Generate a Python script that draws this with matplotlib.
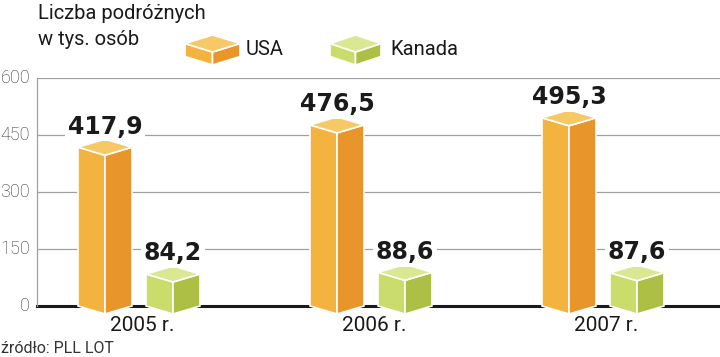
import matplotlib
matplotlib.use("Agg")
import matplotlib.pyplot as plt
from matplotlib.patches import Polygon
import numpy as np

plt.rcParams['font.family'] = ['Roboto', 'DejaVu Sans']

years = ["2005 r.", "2006 r.", "2007 r."]
usa = [417.9, 476.5, 495.3]
kanada = [84.2, 88.6, 87.6]
usa_labels = ["417,9", "476,5", "495,3"]
kanada_labels = ["84,2", "88,6", "87,6"]
yticks = [0, 150, 300, 450, 600]

W, H = 720, 357
fig = plt.figure(figsize=(W / 100, H / 100), dpi=100)

ax_left, ax_right = 37, 720
ax_top, ax_bot = 78, 306
ax = fig.add_axes([ax_left / W, (H - ax_bot) / H, (ax_right - ax_left) / W, (ax_bot - ax_top) / H])

px_per_unit = 232.0
center0 = 139.0
ax.set_xlim((ax_left - center0) / px_per_unit, (ax_right - center0) / px_per_unit)
ax.set_ylim(0, 600)

bw = 54 / px_per_unit
off = 34 / px_per_unit
d = 8 * 600 / (ax_bot - ax_top)  # depth in data units

col_usa = dict(left="#F4B33F", right="#E8952B", top="#F7C866")
col_kan = dict(left="#C9DC6C", right="#AEBF46", top="#DAE793")


def prism(xc, v, c):
    x0, x1 = xc - bw / 2, xc + bw / 2
    faces = [
        ([(x0, 0), (xc, -d), (xc, v - d), (x0, v)], c["left"]),
        ([(xc, -d), (x1, 0), (x1, v), (xc, v - d)], c["right"]),
        ([(x0, v), (xc, v - d), (x1, v), (xc, v + d)], c["top"]),
    ]
    for pts, fc in faces:
        ax.add_patch(Polygon(pts, closed=True, facecolor=fc, edgecolor="white",
                             linewidth=1.2, clip_on=False, zorder=3))


for y in yticks[1:]:
    ax.axhline(y, color="#a0a0a0", linewidth=0.9, zorder=1)
ax.axhline(0, color="#1a1a1a", linewidth=2.2, zorder=2, clip_on=False)

x = np.arange(len(years))
for i in x:
    for xc, v, lab, c in [(i - off, usa[i], usa_labels[i], col_usa),
                          (i + off, kanada[i], kanada_labels[i], col_kan)]:
        prism(xc, v, c)
        ax.annotate(lab, (xc, v + d), xytext=(0, 4), textcoords="offset points",
                    ha="center", va="baseline", fontsize=17, fontweight="bold",
                    family="DejaVu Sans", color="#1a1a1a", zorder=4,
                    bbox=dict(boxstyle="square,pad=0.12", fc="white", ec="none"))

ax.set_yticks(yticks)
ax.set_yticklabels([str(t) for t in yticks], fontsize=13, color="#333333",
                   fontweight="light")
ax.tick_params(axis="y", length=0, pad=5)
for t in ax.get_yticklabels():
    t.set_va("center")
ax.set_xticks([])
for s in ["top", "right", "bottom"]:
    ax.spines[s].set_visible(False)
ax.spines["left"].set_color("#a0a0a0")
ax.spines["left"].set_linewidth(0.9)

# year labels
for i, lab in enumerate(years):
    ax.annotate(lab, (i + 3 / px_per_unit, 0), xytext=(0, -7), textcoords="offset points",
                ha="center", va="top", fontsize=15, color="#1a1a1a", annotation_clip=False)

# overlay in pixel coords
ov = fig.add_axes([0, 0, 1, 1], zorder=10)
ov.set_xlim(0, W)
ov.set_ylim(H, 0)
ov.axis("off")

ov.text(38, 19, "Liczba podróżnych", fontsize=14.5, color="#1a1a1a", va="baseline", ha="left")
ov.text(38, 45, "w tys. osób", fontsize=14.5, color="#1a1a1a", va="baseline", ha="left")


def legend_box(x0, x1, ytop, c):
    xc = (x0 + x1) / 2
    dd = 8.5
    h = 13
    yc = ytop + dd  # corner height
    faces = [
        ([(x0, yc), (xc, yc + dd), (xc, yc + dd + h), (x0, yc + h)], c["left"]),
        ([(xc, yc + dd), (x1, yc), (x1, yc + h), (xc, yc + dd + h)], c["right"]),
        ([(x0, yc), (xc, yc - dd), (x1, yc), (xc, yc + dd)], c["top"]),
    ]
    for pts, fc in faces:
        ov.add_patch(Polygon(pts, closed=True, facecolor=fc, edgecolor="white", linewidth=1.2))


legend_box(185, 240, 35, col_usa)
ov.text(246, 55, "USA", fontsize=14.5, color="#1a1a1a", va="baseline", ha="left")
legend_box(330, 381, 35, col_kan)
ov.text(390, 55, "Kanada", fontsize=14.5, color="#1a1a1a", va="baseline", ha="left")

ov.text(1, 353, "źródło: PLL LOT", fontsize=11.5, color="#333333", va="baseline", ha="left")

fig.savefig("out.png", dpi=100)
